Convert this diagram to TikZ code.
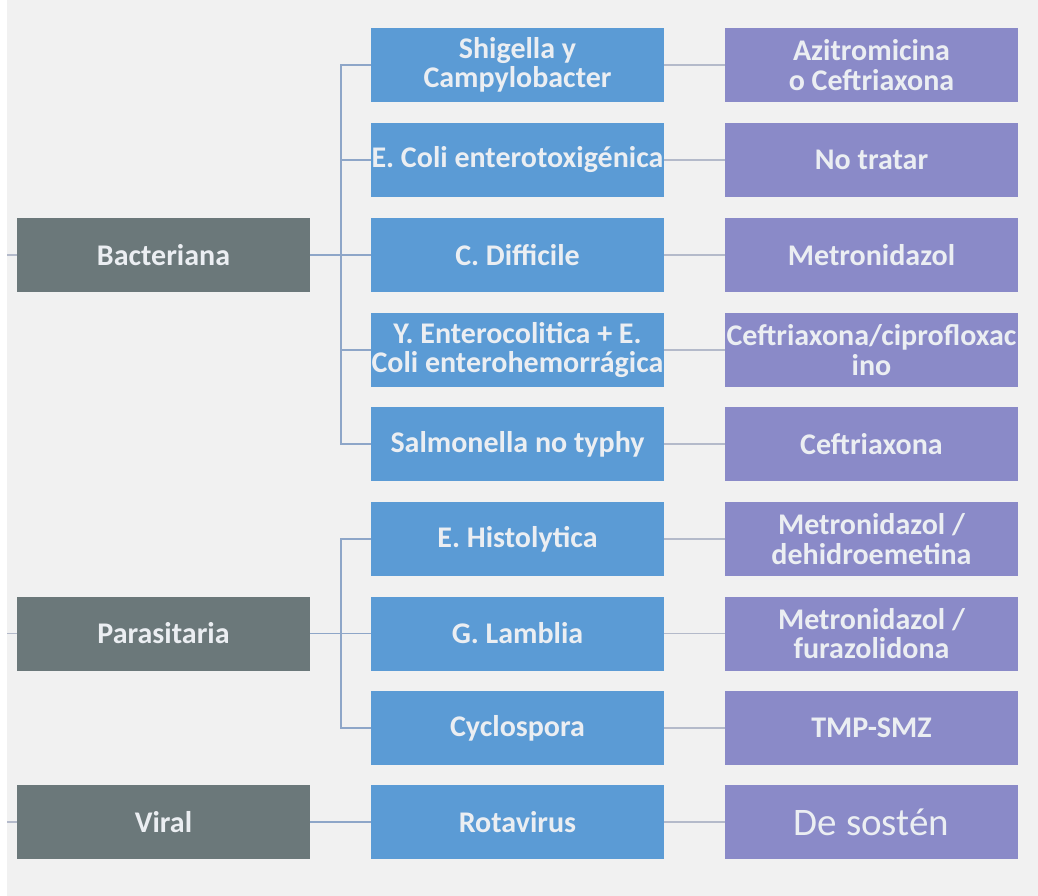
\documentclass[tikz,border=0pt]{standalone}
\usepackage{fontspec}
\setmainfont{Carlito}
\definecolor{bgc}{HTML}{F1F1F1}
\definecolor{catc}{HTML}{6B787A}
\definecolor{orgc}{HTML}{5B9BD5}
\definecolor{txc}{HTML}{8A8AC8}
\definecolor{brc}{HTML}{8EA6C8}
\definecolor{lnc}{HTML}{B4BACA}
\definecolor{txtc}{HTML}{EBEEF2}
\tikzset{
  boxbase/.style={rectangle, minimum width=293pt, minimum height=74pt, inner sep=0pt, align=center, text=txtc, font=\fontsize{30}{29.5}\selectfont\bfseries},
  catbox/.style={boxbase, fill=catc},
  orgbox/.style={boxbase, fill=orgc},
  txbox/.style={boxbase, fill=txc},
  brline/.style={draw=brc, line width=1.3pt},
  lnline/.style={draw=lnc, line width=1.5pt}
}
\begin{document}
\begin{tikzpicture}[x=1pt,y=-1pt]
\fill[bgc] (0,0) rectangle (1038,896);
\fill[white] (0,0) rectangle (7,896);
\useasboundingbox (0,0) rectangle (1038,896);

% categories
\node[catbox] (bac) at (163.5,255) {Bacteriana};
\node[catbox] (par) at (163.5,633.5) {Parasitaria};
\node[catbox] (vir) at (163.5,822) {Viral};

% organisms
\node[orgbox] (o1) at (517.5,65) {Shigella y\\Campylobacter};
\node[orgbox] (o2) at (517.5,160) {E. Coli enterotoxigénica};
\node[orgbox] (o3) at (517.5,255) {C. Difficile};
\node[orgbox] (o4) at (517.5,350) {Y. Enterocolitica + E.\\Coli enterohemorrágica};
\node[orgbox] (o5) at (517.5,444) {Salmonella no typhy};
\node[orgbox] (o6) at (517.5,539) {E. Histolytica};
\node[orgbox] (o7) at (517.5,633.5) {G. Lamblia};
\node[orgbox] (o8) at (517.5,728) {Cyclospora};
\node[orgbox] (o9) at (517.5,822) {Rotavirus};

% treatments
\node[txbox] (t1) at (871.5,65) {Azitromicina\\o Ceftriaxona};
\node[txbox] (t2) at (871.5,160) {No tratar};
\node[txbox] (t3) at (871.5,255) {Metronidazol};
\node[txbox] (t4) at (871.5,350) {Ceftriaxona/ciprofloxac\\ino};
\node[txbox] (t5) at (871.5,444) {Ceftriaxona};
\node[txbox] (t6) at (871.5,539) {Metronidazol /\\dehidroemetina};
\node[txbox] (t7) at (871.5,633.5) {Metronidazol /\\furazolidona};
\node[txbox] (t8) at (871.5,728) {TMP-SMZ};
\node[txbox, font=\fontsize{39}{40}\selectfont] (t9) at (871.5,822) {De sostén};

% incoming stubs
\coordinate (sb) at (7,255);
\coordinate (sp) at (7,633.5);
\coordinate (sv) at (7,822);
\draw[lnline] (sb) -- (bac.west);
\draw[lnline] (sp) -- (par.west);
\draw[lnline] (sv) -- (vir.west);

% bracket Bacteriana
\coordinate (jb) at (341,255);
\draw[brline] (bac.east) -- (jb);
\foreach \o in {o1,o2,o3,o4,o5}{
  \draw[brline] (jb) |- (\o.west);
}
% bracket Parasitaria
\coordinate (jp) at (341,633.5);
\draw[brline] (par.east) -- (jp);
\foreach \o in {o6,o7,o8}{
  \draw[brline] (jp) |- (\o.west);
}
% Viral
\draw[brline] (vir.east) -- (o9.west);

% organism to treatment
\foreach \i in {1,...,9}{
  \draw[lnline] (o\i.east) -- (t\i.west);
}
\end{tikzpicture}
\end{document}
